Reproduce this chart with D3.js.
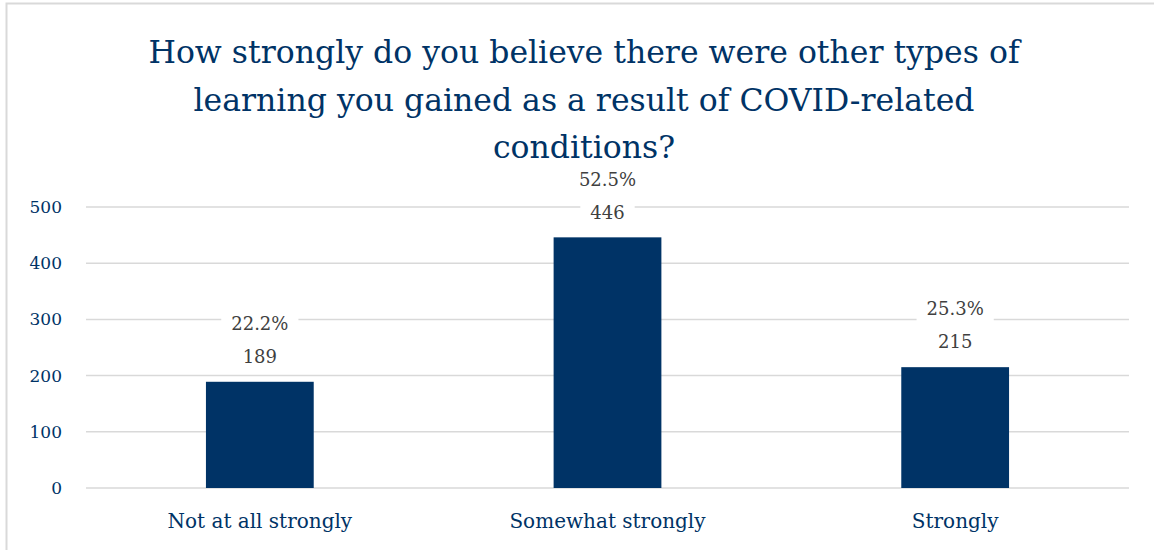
<!DOCTYPE html>
<html>
<head>
<meta charset="utf-8">
<script src="https://cdn.jsdelivr.net/npm/d3@7"></script>
<style>
  body { margin: 0; background: #fff; }
  svg text { font-family: "DejaVu Serif", serif; }
</style>
</head>
<body>
<div id="chart"></div>
<script>
var categories = ["Not at all strongly", "Somewhat strongly", "Strongly"];
var counts = [189, 446, 215];
var percents = ["22.2%", "52.5%", "25.3%"];
var yTicks = [0, 100, 200, 300, 400, 500];
var titleLines = [
  "How strongly do you believe there were other types of",
  "learning you gained as a result of COVID-related",
  "conditions?"
];

var W = 1154, H = 550;
var navy = "#003366";
var margin = {left: 86, right: 25, top: 207, bottom: 62};

var svg = d3.select("#chart").append("svg")
    .attr("width", W)
    .attr("height", H);

// chart frame (only top and left edges are visible)
svg.append("rect")
    .attr("x", 6.5).attr("y", 3.5)
    .attr("width", W + 20).attr("height", H + 20)
    .attr("fill", "none")
    .attr("stroke", "#d9d9d9")
    .attr("stroke-width", 2);

var x = d3.scaleBand()
    .domain(categories)
    .range([margin.left, W - margin.right])
    .padding(0);

var y = d3.scaleLinear()
    .domain([0, 500])
    .range([H - margin.bottom, margin.top]);

var barW = x.bandwidth() * 0.31;

// gridlines
svg.append("g").selectAll("line")
    .data(yTicks)
    .join("line")
    .attr("x1", margin.left).attr("x2", W - margin.right)
    .attr("y1", d => y(d)).attr("y2", d => y(d))
    .attr("stroke", "#d9d9d9")
    .attr("stroke-width", 1.5);

// y tick labels
svg.append("g").selectAll("text")
    .data(yTicks)
    .join("text")
    .attr("x", 62)
    .attr("y", d => y(d))
    .attr("dy", "0.35em")
    .attr("text-anchor", "end")
    .attr("fill", navy)
    .style("font-size", "17px")
    .text(d => d);

// bars
svg.append("g").selectAll("rect")
    .data(counts)
    .join("rect")
    .attr("x", (d, i) => x(categories[i]) + x.bandwidth() / 2 - barW / 2)
    .attr("y", d => y(d))
    .attr("width", barW)
    .attr("height", d => y(0) - y(d))
    .attr("fill", navy);

// data labels with white boxes
var labels = svg.append("g");
counts.forEach(function(d, i) {
  var cx = x(categories[i]) + x.bandwidth() / 2;
  [[percents[i], y(d) - 58], [d, y(d) - 25]].forEach(function(p) {
    var t = labels.append("text")
        .attr("x", cx)
        .attr("y", p[1])
        .attr("dy", "0.35em")
        .attr("text-anchor", "middle")
        .attr("fill", "#404040")
        .style("font-size", "18px")
        .text(p[0]);
    var bb = t.node().getBBox();
    labels.insert("rect", "text")
        .attr("x", bb.x - 10).attr("y", bb.y - 4)
        .attr("width", bb.width + 20).attr("height", bb.height + 8)
        .attr("fill", "#fff");
  });
});

// x axis labels
svg.append("g").selectAll("text")
    .data(categories)
    .join("text")
    .attr("x", d => x(d) + x.bandwidth() / 2)
    .attr("y", 528)
    .attr("text-anchor", "middle")
    .attr("fill", navy)
    .style("font-size", "20px")
    .text(d => d);

// title
svg.append("g").selectAll("text")
    .data(titleLines)
    .join("text")
    .attr("x", 584)
    .attr("y", (d, i) => 63 + i * 47.5)
    .attr("text-anchor", "middle")
    .attr("fill", navy)
    .style("font-size", "31.5px")
    .text(d => d);
</script>
</body>
</html>
